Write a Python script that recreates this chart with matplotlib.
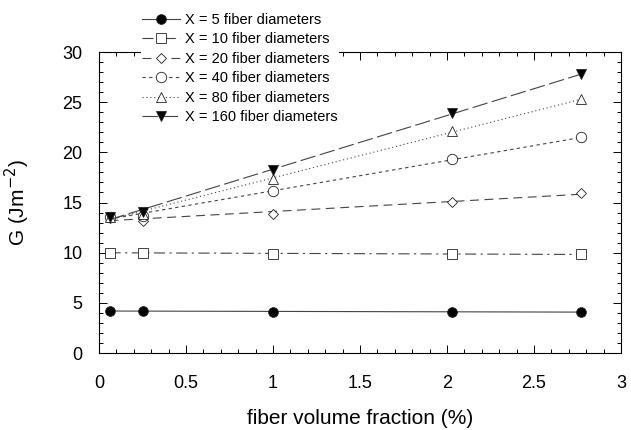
import matplotlib
matplotlib.use("Agg")
import matplotlib.pyplot as plt
import numpy as np
from matplotlib.ticker import MultipleLocator

plt.rcParams["font.family"] = ["Liberation Sans", "DejaVu Sans"]

# fiber volume fraction (%)
vf = [0.06, 0.25, 1.0, 2.03, 2.77]

labels = [
    "X = 5 fiber diameters",
    "X = 10 fiber diameters",
    "X = 20 fiber diameters",
    "X = 40 fiber diameters",
    "X = 80 fiber diameters",
    "X = 160 fiber diameters",
]
g5 = [4.2, 4.2, 4.1, 4.1, 4.1]
g10 = [10.0, 10.0, 9.9, 9.85, 9.85]
g20 = [13.5, 13.2, 13.9, 15.05, 15.95]
g40 = [13.6, 13.7, 16.1, 19.3, 21.5]
g80 = [13.6, 13.9, 17.3, 22.1, 25.3]
g160 = [13.6, 14.05, 18.2, 23.9, 27.8]
series = [g5, g10, g20, g40, g80, g160]

markers = ["o", "s", "D", "o", "^", "v"]
filled = [True, False, False, False, False, True]
msizes = [7, 7, 5, 7.5, 6.5, 6.5]
styles = ["-", (0, (10, 4, 2, 4)), (0, (8, 5)), (0, (3, 3)), (0, (1, 2.5)), (0, (14, 4))]
lc = "#444444"

fig = plt.figure(figsize=(6.31, 4.30), dpi=100)
ax = fig.add_axes([0.157, 0.179, 0.827, 0.700])

xs = np.array(vf)
for lab, g, m, f, ms, ls in zip(labels, series, markers, filled, msizes, styles):
    k, b = np.polyfit(xs, g, 1)
    fx = np.array([xs[0], xs[-1]])
    ax.plot(fx, k * fx + b, color=lc, linestyle=ls, linewidth=0.8)
    ax.plot(xs, g, linestyle="none", marker=m, markersize=ms,
            markerfacecolor="black" if f else "white",
            markeredgecolor="#222222", markeredgewidth=0.6)
    ax.plot([], [], color=lc, linestyle=ls, linewidth=0.8, marker=m,
            markersize=ms, markerfacecolor="black" if f else "white",
            markeredgecolor="#222222", markeredgewidth=0.6, label=lab)

ax.set_xlim(0, 3)
ax.set_ylim(0, 30)
ax.xaxis.set_minor_locator(MultipleLocator(0.1))
ax.yaxis.set_major_locator(MultipleLocator(5))
ax.yaxis.set_minor_locator(MultipleLocator(1))
ax.set_xticks([0, 0.5, 1, 1.5, 2, 2.5, 3])
ax.set_xticklabels(["0", "0.5", "1", "1.5", "2", "2.5", "3"])
ax.tick_params(which="both", direction="in", top=True, right=True, width=0.7)
ax.tick_params(which="major", length=6, labelsize=13)
ax.tick_params(axis="x", which="major", pad=16)
ax.tick_params(axis="y", which="major", pad=12)
ax.tick_params(which="minor", length=3)
for s in ax.spines.values():
    s.set_linewidth(0.8)

ax.set_xlabel("fiber volume fraction (%)", fontsize=15, labelpad=12)
ax.set_ylabel("G (Jm$^{-2}$)", fontsize=15, labelpad=22)

leg = ax.legend(loc="upper left", bbox_to_anchor=(0.066, 1.16), frameon=True,
                fontsize=10.5, handlelength=2.6, handletextpad=0.3,
                labelspacing=0.38, borderpad=0.1, fancybox=False)
leg.get_frame().set_facecolor("white")
leg.get_frame().set_edgecolor("none")
leg.get_frame().set_alpha(1)

fig.savefig("out.png", dpi=100)
